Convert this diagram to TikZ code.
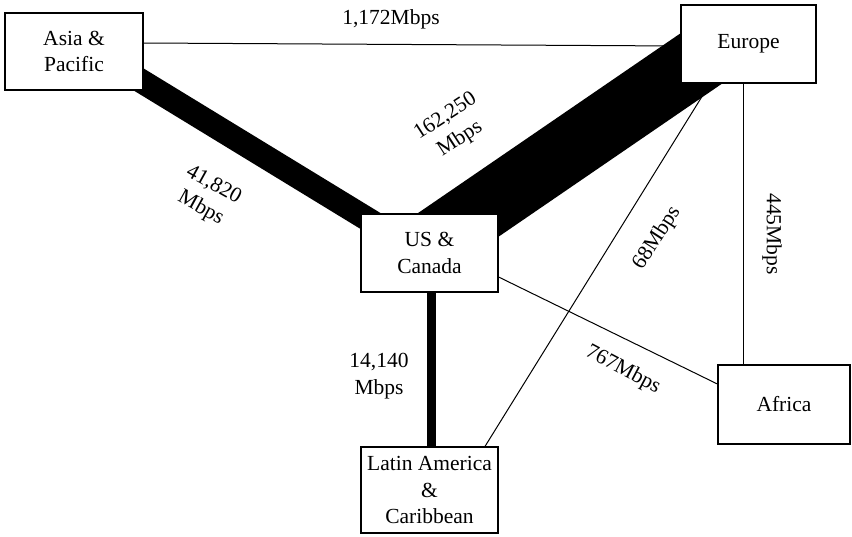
\documentclass[tikz,border=0pt]{standalone}
\usepackage{fontspec}
\setmainfont{Liberation Serif}
\usetikzlibrary{calc,backgrounds}
\begin{document}
\begin{tikzpicture}[x=1pt,y=-1pt,
  txt/.style={font=\fontsize{21.5}{26.5}\selectfont},
  box/.style={txt,draw,line width=1.2pt,fill=white,inner sep=0pt,align=center},
  lbl/.style={txt,inner sep=0pt,align=center},
  link/.style={line width=1pt},
  band/.style={line width=#1}]
\useasboundingbox (0,0) rectangle (852,536);
% boxes
\node[box,minimum width=138pt,minimum height=77pt] (asia) at (74,51.5) {Asia \&\\Pacific};
\node[box,minimum width=135pt,minimum height=78pt] (europe) at (748.5,44) {Europe};
\node[box,minimum width=137pt,minimum height=78pt] (us) at (429.5,253) {US \&\\Canada};
\node[box,minimum width=137pt,minimum height=86pt] (latin) at (429.5,490) {Latin America\\\&\\Caribbean};
\node[box,minimum width=132pt,minimum height=79pt] (africa) at (784,404.5) {Africa};
% connectors
\begin{scope}[on background layer]
\draw[band=24pt] ($(asia.center)+(0,-11.5)$) -- ($(us.center)+(0,4)$);
\draw[band=65pt] ($(europe.center)+(-38.5,8.5)$) -- ($(us.center)+(0,-8.4)$);
\draw[band=9pt] ($(us.south)+(1.5,0)$) -- ($(latin.north)+(1.5,0)$);
\draw[link] ($(asia.east)+(0,-8.5)$) -- ($(europe.west)+(0,2)$);
\draw[link] ($(europe.south)+(-38.5,0)$) -- ($(latin.north)+(55.5,0)$);
\draw[link] ($(europe.south)+(-5.5,0)$) -- ($(africa.north)+(-41,0)$);
\draw[link] ($(us.east)+(0,24)$) -- ($(africa.west)+(0,-20.5)$);
\end{scope}
% labels
\node[lbl] (l1) at (391,19) {1,172Mbps};
\node[lbl,rotate=-29] (l2) at (207,197) {41,820\\Mbps};
\node[lbl,rotate=33] (l3) at (453,128) {162,250\\Mbps};
\node[lbl,rotate=57] (l4) at (657,238) {68Mbps};
\node[lbl,rotate=-90] (l5) at (772,234) {445Mbps};
\node[lbl,rotate=-28] (l6) at (623,370) {767Mbps};
\node[lbl] (l7) at (379,376) {14,140\\Mbps};
\end{tikzpicture}
\end{document}
